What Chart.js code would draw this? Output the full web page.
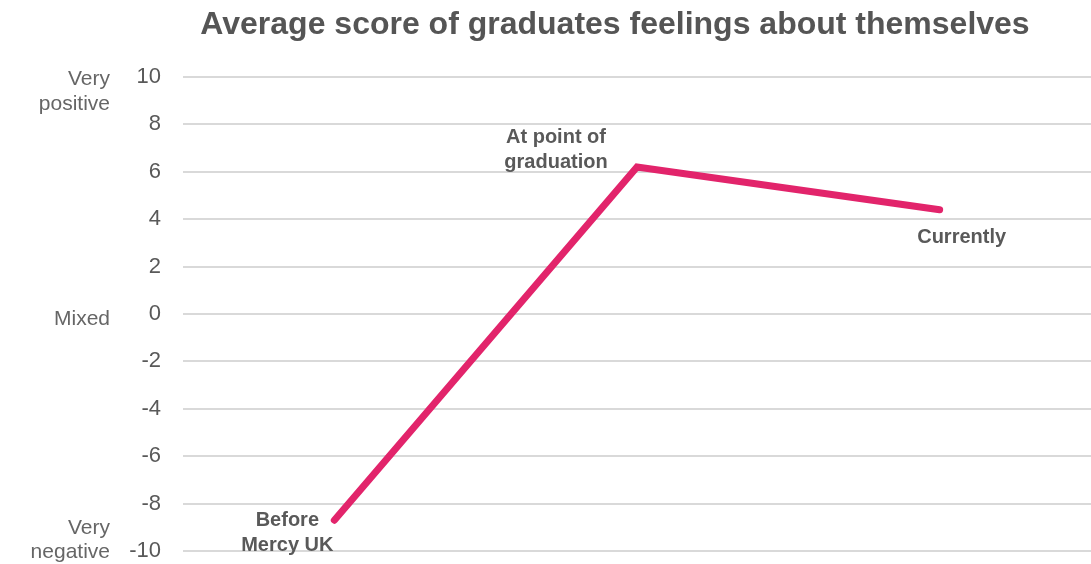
<!DOCTYPE html>
<html>
<head>
<meta charset="utf-8">
<script src="https://cdn.jsdelivr.net/npm/chart.js@4/dist/chart.umd.min.js"></script>
<style>
  html, body { margin: 0; padding: 0; background: #fff; }
  #wrap { width: 1091px; height: 564px; position: relative; }
</style>
</head>
<body>
<div id="wrap"><canvas id="feelingsChart"></canvas></div>
<script>
// Stages and average scores
const stages = ['Before Mercy UK', 'At point of graduation', 'Currently'];
const scores = [-8.7, 6.2, 4.4];
const yTicks = [-10, -8, -6, -4, -2, 0, 2, 4, 6, 8, 10];
const sideLabels = [
    { value: 10, lines: ['Very', 'positive'] },
    { value: 0, lines: ['Mixed'] },
    { value: -10, lines: ['Very', 'negative'] }
];
const titleText = 'Average score of graduates feelings about themselves';

const textGrey = '#595959';

// Title, side captions and stage names drawn onto the canvas
const annotations = {
    id: 'annotations',
    afterDraw(chart) {
        const ctx = chart.ctx;
        const x = chart.scales.x;
        const y = chart.scales.y;
        ctx.save();

        ctx.fillStyle = '#555555';
        ctx.font = 'bold 32px "Liberation Sans", Arial, sans-serif';
        ctx.textAlign = 'center';
        ctx.textBaseline = 'middle';
        ctx.fillText(titleText, 615, 25);

        ctx.fillStyle = '#666666';
        ctx.font = '21px "Liberation Sans", Arial, sans-serif';
        ctx.textAlign = 'right';
        sideLabels.forEach(s => {
            const py = y.getPixelForValue(s.value);
            if (s.lines.length === 1) {
                ctx.fillText(s.lines[0], 110, py + 5);
            } else if (s.value > 0) {
                ctx.fillText(s.lines[0], 110, py + 2);
                ctx.fillText(s.lines[1], 110, py + 27);
            } else {
                ctx.fillText(s.lines[0], 110, py - 23);
                ctx.fillText(s.lines[1], 110, py + 1);
            }
        });

        // stage names next to each point
        ctx.fillStyle = textGrey;
        ctx.font = 'bold 20px "Liberation Sans", Arial, sans-serif';
        ctx.textAlign = 'center';
        const placements = [
            { dx: -47, dy: [0, 25] },
            { dx: -81, dy: [-30, -5] },
            { dx: 22, dy: [28] }
        ];
        const split = [['Before', 'Mercy UK'], ['At point of', 'graduation'], ['Currently']];
        stages.forEach((name, i) => {
            const px = x.getPixelForValue(i);
            const py = y.getPixelForValue(scores[i]);
            split[i].forEach((line, j) => {
                ctx.fillText(line, px + placements[i].dx, py + placements[i].dy[j]);
            });
        });
        ctx.restore();
    }
};

const ctx = document.getElementById('feelingsChart').getContext('2d');
const feelingsChart = new Chart(ctx, {
    type: 'line',
    data: {
        labels: stages,
        datasets: [{
            data: scores,
            borderColor: '#e2246b',
            borderWidth: 7,
            borderCapStyle: 'round',
            borderJoinStyle: 'miter',
            pointRadius: 0,
            tension: 0,
            clip: false
        }]
    },
    options: {
        responsive: true,
        maintainAspectRatio: false,
        animation: false,
        layout: { padding: { top: 77, bottom: 13, left: 0, right: 0 } },
        plugins: {
            legend: { display: false },
            title: { display: false },
            tooltip: { enabled: false }
        },
        scales: {
            x: {
                display: false,
                offset: true
            },
            y: {
                min: -10,
                max: 10,
                afterBuildTicks: scale => {
                    scale.ticks = yTicks.map(v => ({ value: v }));
                },
                afterFit: scale => {
                    scale.width = 183;
                    // tick padding is horizontal only here
                    scale.paddingTop = 12;
                    scale.paddingBottom = 12;
                },
                border: { display: false },
                grid: {
                    color: '#d9d9d9',
                    lineWidth: 2,
                    drawTicks: false
                },
                ticks: {
                    color: textGrey,
                    padding: 22,
                    font: { family: '"Liberation Sans", Arial, sans-serif', size: 22 }
                }
            }
        }
    },
    plugins: [annotations]
});
</script>
</body>
</html>
